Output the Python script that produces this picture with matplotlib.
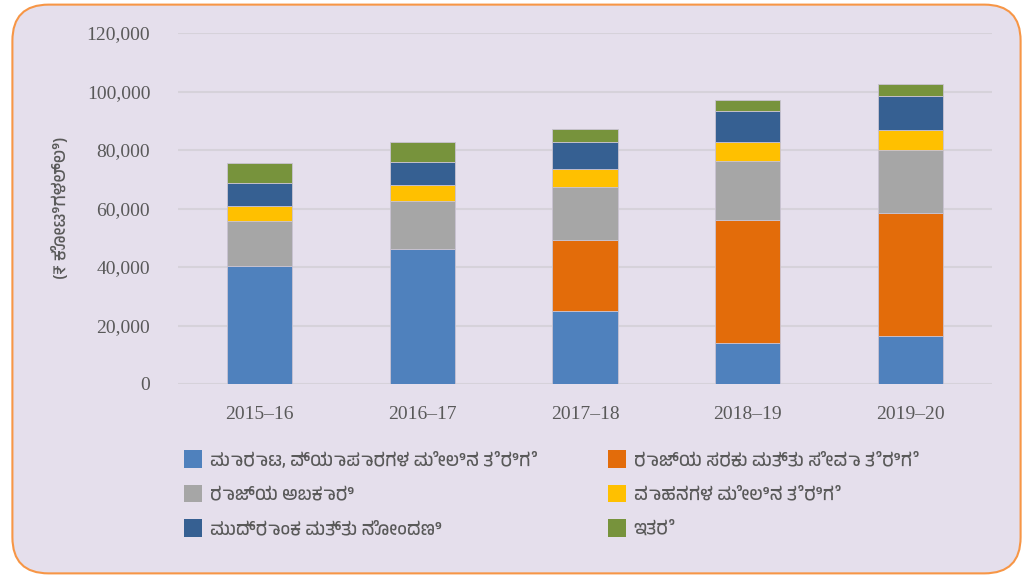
import matplotlib
matplotlib.use("Agg")
import matplotlib.pyplot as plt
from matplotlib import font_manager
from matplotlib.patches import FancyBboxPatch, Patch
import numpy as np

years = ["2015\u201316", "2016\u201317", "2017\u201318", "2018\u201319", "2019\u201320"]

sales_tax = [40400, 46000, 25000, 13900, 16300]
gst = [0, 0, 24400, 42000, 42300]
excise = [15300, 16500, 17800, 20200, 21400]
vehicle_tax = [5000, 5700, 6300, 6500, 7000]
stamps = [8100, 7600, 9100, 10600, 11300]
others = [6700, 7100, 4700, 3900, 4200]

labels = [
    "ಮಾರಾಟ, ವ್ಯಾಪಾರಗಳ ಮೇಲಿನ ತೆರಿಗೆ",
    "ರಾಜ್ಯ ಸರಕು ಮತ್ತು ಸೇವಾ ತೆರಿಗೆ",
    "ರಾಜ್ಯ ಅಬಕಾರಿ",
    "ವಾಹನಗಳ ಮೇಲಿನ ತೆರಿಗೆ",
    "ಮುದ್ರಾಂಕ ಮತ್ತು ನೋಂದಣಿ",
    "ಇತರೆ",
]
colors = ["#4F81BD", "#E36C0A", "#A6A6A6", "#FFC000", "#366092", "#77933C"]

# pick a font that has Kannada glyphs, if there is one
kn_font = "DejaVu Sans"
for f in font_manager.fontManager.ttflist:
    if "Kannada" in f.name or "Tunga" in f.name or "Lohit" in f.name:
        kn_font = f.name
        break

series = [sales_tax, gst, excise, vehicle_tax, stamps, others]

fig = plt.figure(figsize=(10.33, 5.78), dpi=100)
fig.patch.set_facecolor("white")

bg = FancyBboxPatch(
    (0.012, 0.008), 0.976, 0.984,
    boxstyle="round,pad=0,rounding_size=0.035",
    transform=fig.transFigure,
    facecolor="#E5DFEC", edgecolor="#F79646", linewidth=1.5,
    mutation_aspect=1033 / 578, zorder=-10,
)
fig.patches.append(bg)

ax = fig.add_axes([178 / 1033, 1 - 384 / 578, 814 / 1033, 351 / 578])
ax.set_facecolor("none")

x = np.arange(len(years))
bottom = np.zeros(len(years))
for vals, col in zip(series, colors):
    ax.bar(x, vals, width=0.4, bottom=bottom, color=col,
           edgecolor="#C9C3D2", linewidth=0.6, zorder=3)
    bottom += np.array(vals)

ax.set_xlim(-0.5, len(years) - 0.5)
ax.set_ylim(0, 120000)
ax.set_yticks(np.arange(0, 120001, 20000))
ax.yaxis.set_major_formatter(matplotlib.ticker.FuncFormatter(lambda v, p: f"{int(v):,}"))
ax.set_xticks(x)
ax.set_xticklabels(years)
ax.grid(axis="y", color="#D6D2DA", linewidth=1.5, zorder=0)
for s in ax.spines.values():
    s.set_visible(False)
ax.tick_params(length=0, labelsize=14, labelcolor="#595959")
ax.tick_params(axis="y", pad=20)
ax.tick_params(axis="x", pad=16)
for t in ax.get_xticklabels() + ax.get_yticklabels():
    t.set_fontfamily("Liberation Serif")

fig.text(60 / 1033, 1 - 208 / 578, "(₹ ಕೋಟಿಗಳಲ್ಲಿ)", rotation=90,
         ha="center", va="center", fontsize=13, color="#595959",
         family=[kn_font, "DejaVu Sans"])

# two legend columns, filled row by row as in the reference
columns = [[0, 2, 4], [1, 3, 5]]
col_x = [168 / 1033, 592 / 1033]
for idx, cx in zip(columns, col_x):
    handles = [Patch(facecolor=colors[i], edgecolor="none") for i in idx]
    leg = fig.legend(handles, [labels[i] for i in idx], loc="upper left",
                     bbox_to_anchor=(cx, 1 - 434 / 578),
                     frameon=False,
                     handlelength=1.0, handleheight=1.15, handletextpad=0.4,
                     labelspacing=0.9,
                     prop={"family": [kn_font, "DejaVu Sans"], "size": 13})
    for t in leg.get_texts():
        t.set_color("#595959")

fig.savefig("out.png", dpi=100, facecolor=fig.get_facecolor())
